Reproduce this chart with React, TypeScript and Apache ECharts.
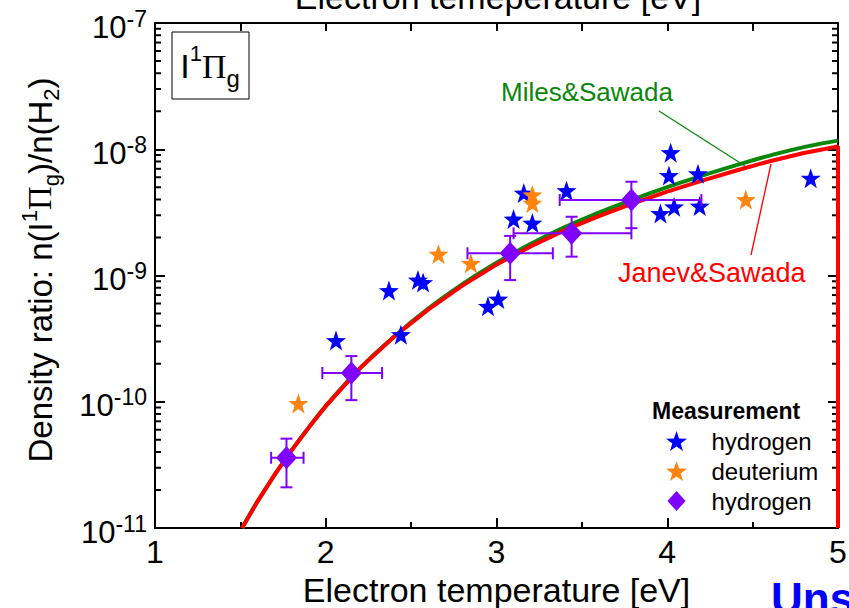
import React, { useEffect, useRef } from 'react';
import * as echarts from 'echarts';

// Axis ranges
const teMin = 1;
const teMax = 5;
const ratioMin = 1e-11;
const ratioMax = 1e-7;
const teTicks = [1, 2, 3, 4, 5];

// Calculated density ratio curves
const curveTe = [1.51, 1.6, 1.7, 1.8, 1.9, 2.0, 2.2, 2.4, 2.6, 2.8, 3.0, 3.2, 3.4, 3.6, 3.8, 4.0, 4.2, 4.4, 4.6, 4.8, 5.0];
const janevRatio = [1.0e-11, 1.62e-11, 2.63e-11, 4.12e-11, 6.24e-11, 9.23e-11, 1.84e-10, 3.27e-10, 5.37e-10, 8.32e-10, 1.22e-9, 1.70e-9, 2.29e-9, 2.95e-9, 3.72e-9, 4.62e-9, 5.62e-9, 6.76e-9, 8.04e-9, 9.33e-9, 1.05e-8];
const milesRatio = [1.0e-11, 1.62e-11, 2.63e-11, 4.12e-11, 6.24e-11, 9.23e-11, 1.84e-10, 3.27e-10, 5.47e-10, 8.55e-10, 1.26e-9, 1.78e-9, 2.42e-9, 3.15e-9, 4.00e-9, 5.02e-9, 6.15e-9, 7.45e-9, 8.91e-9, 1.04e-8, 1.17e-8];

// Measurement: hydrogen (stars)
const hydrogenTe = [2.06, 2.37, 2.54, 2.57, 2.44, 2.95, 3.01, 3.10, 3.21, 3.16, 3.41, 4.02, 4.01, 4.18, 3.96, 4.04, 4.19, 4.84];
const hydrogenRatio = [3.05e-10, 7.6e-10, 9.2e-10, 8.8e-10, 3.4e-10, 5.7e-10, 6.5e-10, 2.8e-9, 2.6e-9, 4.5e-9, 4.7e-9, 9.4e-9, 6.2e-9, 6.4e-9, 3.1e-9, 3.5e-9, 3.55e-9, 5.9e-9];

// Measurement: deuterium (stars)
const deuteriumTe = [1.84, 2.66, 2.85, 3.21, 3.21, 4.46];
const deuteriumRatio = [9.7e-11, 1.48e-9, 1.25e-9, 4.35e-9, 3.75e-9, 4.0e-9];

// Measurement: hydrogen, averaged with error ranges (diamonds)
const avgTe = [1.77, 2.15, 3.08, 3.44, 3.79];
const avgRatio = [3.6e-11, 1.69e-10, 1.5e-9, 2.16e-9, 3.96e-9];
const avgTeLow = [1.68, 1.98, 2.83, 3.10, 3.37];
const avgTeHigh = [1.87, 2.33, 3.33, 3.79, 4.20];
const avgRatioLow = [2.1e-11, 1.03e-10, 9.2e-10, 1.41e-9, 2.37e-9];
const avgRatioHigh = [5.1e-11, 2.3e-10, 2.06e-9, 2.92e-9, 5.53e-9];

// Log-axis minor tick multipliers
const minorMultipliers = [2, 3, 4, 5, 6, 7, 8, 9];
const decades = [-11, -10, -9, -8];

const FONT = 'Liberation Sans, Arial, Helvetica, sans-serif';
const SERIF = 'Liberation Serif, Times New Roman, serif';
const BLUE = '#0000ff';
const ORANGE = '#ff8410';
const PURPLE = '#8000ff';
const GREEN = '#0a870a';
const RED = '#ff0000';

const STAR = 'path://M0,-10L2.35,-3.24L9.51,-3.09L3.8,1.24L5.88,8.09L0,4L-5.88,8.09L-3.8,1.24L-9.51,-3.09L-2.35,-3.24Z';
const DIAMOND = 'path://M0,-11L10,0L0,11L-10,0Z';

const NAME_H = 'hydrogen';
const NAME_D = 'deuterium';
const NAME_AVG = 'hydrogen, averaged';

export default function App() {
  const ref = useRef<HTMLDivElement>(null);

  useEffect(() => {
    if (!ref.current) return;
    const chart = echarts.init(ref.current, null, { renderer: 'svg' });

    const minorTicks: number[][] = [];
    decades.forEach((d) => minorMultipliers.forEach((m) => minorTicks.push([teMin, m * Math.pow(10, d)])));

    const janevData = curveTe.map((t, i) => [t, janevRatio[i]]);
    // the calculated curve closes down the right frame at the upper Te limit
    janevData.push([teMax, ratioMin]);

    const option: any = {
      animation: false,
      backgroundColor: '#ffffff',
      grid: { left: 155, right: 11, top: 23, bottom: 80, containLabel: false, outerBoundsMode: 'none' },
      xAxis: [
        {
          type: 'value',
          min: teMin,
          max: teMax,
          interval: 1,
          position: 'bottom',
          name: 'Electron temperature [eV]',
          nameLocation: 'middle',
          nameGap: 37,
          nameTextStyle: { fontFamily: FONT, fontSize: 34, color: '#000' },
          axisLine: { show: true, onZero: false, lineStyle: { color: '#000', width: 2 } },
          axisTick: { show: true, inside: true, length: 10, lineStyle: { color: '#000', width: 2 } },
          minorTick: { show: true, splitNumber: 2, length: 6, lineStyle: { color: '#000', width: 2 } },
          splitLine: { show: false },
          axisLabel: {
            fontFamily: FONT,
            fontSize: 32,
            color: '#000',
            margin: 8,
            formatter: (v: number) => (teTicks.includes(v) ? String(v) : ''),
          },
        },
        {
          type: 'value',
          min: teMin,
          max: teMax,
          interval: 1,
          position: 'top',
          axisLine: { show: true, onZero: false, lineStyle: { color: '#000', width: 2 } },
          axisTick: { show: true, inside: true, length: 8, lineStyle: { color: '#000', width: 2 } },
          minorTick: { show: true, splitNumber: 2, length: 8, lineStyle: { color: '#000', width: 2 } },
          splitLine: { show: false },
          axisLabel: { show: false },
        },
      ],
      yAxis: [
        {
          type: 'log',
          logBase: 10,
          min: ratioMin,
          max: ratioMax,
          position: 'left',
          axisLine: { show: true, onZero: false, lineStyle: { color: '#000', width: 2 } },
          axisTick: { show: true, inside: true, length: 10, lineStyle: { color: '#000', width: 2 } },
          splitLine: { show: false },
          axisLabel: {
            margin: 8,
            padding: [8, 0, 0, 0],
            formatter: (v: number) => `{b|10}{e|${Math.round(Math.log10(v))}}`,
            rich: {
              b: { fontFamily: FONT, fontSize: 31, color: '#000', lineHeight: 40 },
              e: { fontFamily: FONT, fontSize: 23, color: '#000', verticalAlign: 'top' },
            },
          },
        },
        {
          type: 'log',
          logBase: 10,
          min: ratioMin,
          max: ratioMax,
          position: 'right',
          axisLine: { show: true, onZero: false, lineStyle: { color: '#000', width: 2 } },
          axisTick: { show: true, inside: true, length: 10, lineStyle: { color: '#000', width: 2 } },
          splitLine: { show: false },
          axisLabel: { show: false },
        },
      ],
      legend: {
        left: 666,
        top: 429,
        orient: 'vertical',
        itemWidth: 60,
        itemHeight: 20,
        itemGap: 6,
        padding: 0,
        selectedMode: false,
        textStyle: { fontFamily: FONT, fontSize: 24, color: '#000' },
        formatter: (name: string) => name.split(',')[0],
        data: [
          { name: NAME_H, icon: STAR },
          { name: NAME_D, icon: STAR },
          { name: NAME_AVG, icon: DIAMOND },
        ],
      },
      series: [
        {
          type: 'custom',
          name: 'minor ticks',
          silent: true,
          clip: false,
          data: minorTicks,
          encode: { x: 0, y: 1 },
          renderItem: (params: any, api: any) => {
            const cs = params.coordSys;
            const p = api.coord([api.value(0), api.value(1)]);
            const st = { stroke: '#000', lineWidth: 2 };
            return {
              type: 'group',
              children: [
                { type: 'line', shape: { x1: cs.x, y1: p[1], x2: cs.x + 6, y2: p[1] }, style: st },
                { type: 'line', shape: { x1: cs.x + cs.width - 6, y1: p[1], x2: cs.x + cs.width, y2: p[1] }, style: st },
              ],
            };
          },
          z: 1,
        },
        {
          type: 'line',
          name: 'Miles&Sawada',
          data: curveTe.map((t, i) => [t, milesRatio[i]]),
          showSymbol: false,
          smooth: true,
          lineStyle: { color: GREEN, width: 4 },
          z: 2,
        },
        {
          type: 'line',
          name: 'Janev&Sawada',
          data: janevData,
          showSymbol: false,
          smooth: false,
          lineStyle: { color: RED, width: 4 },
          z: 3,
        },
        {
          type: 'scatter',
          name: NAME_H,
          data: hydrogenTe.map((t, i) => [t, hydrogenRatio[i]]),
          symbol: STAR,
          symbolSize: 20,
          itemStyle: { color: BLUE, opacity: 1 },
          z: 4,
        },
        {
          type: 'scatter',
          name: NAME_D,
          data: deuteriumTe.map((t, i) => [t, deuteriumRatio[i]]),
          symbol: STAR,
          symbolSize: 20,
          itemStyle: { color: ORANGE, opacity: 1 },
          z: 4,
        },
        {
          type: 'custom',
          name: 'error bars',
          silent: true,
          data: avgTe.map((t, i) => [t, avgRatio[i], avgTeLow[i], avgTeHigh[i], avgRatioLow[i], avgRatioHigh[i]]),
          encode: { x: 0, y: 1 },
          renderItem: (_params: any, api: any) => {
            const t = api.value(0);
            const r = api.value(1);
            const pl = api.coord([api.value(2), r]);
            const pr = api.coord([api.value(3), r]);
            const pb = api.coord([t, api.value(4)]);
            const pt = api.coord([t, api.value(5)]);
            const c = 6;
            const st = { stroke: PURPLE, lineWidth: 2, fill: 'none' };
            return {
              type: 'group',
              children: [
                { type: 'line', shape: { x1: pl[0], y1: pl[1], x2: pr[0], y2: pr[1] }, style: st },
                { type: 'line', shape: { x1: pb[0], y1: pb[1], x2: pt[0], y2: pt[1] }, style: st },
                { type: 'line', shape: { x1: pl[0], y1: pl[1] - c, x2: pl[0], y2: pl[1] + c }, style: st },
                { type: 'line', shape: { x1: pr[0], y1: pr[1] - c, x2: pr[0], y2: pr[1] + c }, style: st },
                { type: 'line', shape: { x1: pt[0] - c, y1: pt[1], x2: pt[0] + c, y2: pt[1] }, style: st },
                { type: 'line', shape: { x1: pb[0] - c, y1: pb[1], x2: pb[0] + c, y2: pb[1] }, style: st },
              ],
            };
          },
          z: 5,
        },
        {
          type: 'scatter',
          name: NAME_AVG,
          data: avgTe.map((t, i) => [t, avgRatio[i]]),
          symbol: DIAMOND,
          symbolSize: [21, 23],
          itemStyle: { color: PURPLE, opacity: 1 },
          z: 6,
        },
      ],
      graphic: [
        {
          type: 'text',
          x: 498,
          y: -3,
          style: { text: 'Electron temeperature [eV]', align: 'center', verticalAlign: 'middle', font: `34px ${FONT}`, fill: '#000' },
        },
        {
          type: 'text',
          x: 40,
          y: 270,
          rotation: Math.PI / 2,
          style: {
            text: '{a|Density ratio: n(I}{sup|1}{pi|Π}{sub|g}{a|)/n(H}{sub|2}{a|)}',
            align: 'center',
            verticalAlign: 'middle',
            rich: {
              a: { fontFamily: FONT, fontSize: 33, fill: '#000', lineHeight: 44 },
              pi: { fontFamily: SERIF, fontSize: 33, fill: '#000', lineHeight: 44 },
              sup: { fontFamily: FONT, fontSize: 22, fill: '#000', verticalAlign: 'top' },
              sub: { fontFamily: FONT, fontSize: 22, fill: '#000', verticalAlign: 'bottom' },
            },
          },
        },
        {
          type: 'rect',
          shape: { x: 172, y: 32, width: 77, height: 67 },
          style: { fill: 'none', stroke: '#000', lineWidth: 1 },
        },
        {
          type: 'text',
          x: 210,
          y: 66,
          style: {
            text: '{a|I}{sup|1}{pi|Π}{sub|g}',
            align: 'center',
            verticalAlign: 'middle',
            rich: {
              a: { fontFamily: FONT, fontSize: 34, fill: '#000', lineHeight: 48 },
              pi: { fontFamily: SERIF, fontSize: 34, fill: '#000', lineHeight: 48 },
              sup: { fontFamily: FONT, fontSize: 22, fill: '#000', verticalAlign: 'top' },
              sub: { fontFamily: FONT, fontSize: 24, fill: '#000', verticalAlign: 'bottom' },
            },
          },
        },
        {
          type: 'text',
          x: 501,
          y: 92,
          style: { text: 'Miles&Sawada', align: 'left', verticalAlign: 'middle', font: `26px ${FONT}`, fill: GREEN },
        },
        {
          type: 'line',
          shape: { x1: 659, y1: 111, x2: 745, y2: 166 },
          style: { stroke: GREEN, lineWidth: 1.3 },
        },
        {
          type: 'text',
          x: 618,
          y: 273,
          style: { text: 'Janev&Sawada', align: 'left', verticalAlign: 'middle', font: `27px ${FONT}`, fill: RED },
        },
        {
          type: 'line',
          shape: { x1: 771, y1: 164, x2: 751, y2: 255 },
          style: { stroke: RED, lineWidth: 1.3 },
        },
        {
          type: 'text',
          x: 652,
          y: 411,
          style: { text: 'Measurement', align: 'left', verticalAlign: 'middle', font: `bold 23px ${FONT}`, fill: '#000' },
        },
        {
          type: 'text',
          x: 771,
          y: 576,
          style: { text: 'Uns', align: 'left', verticalAlign: 'top', font: `bold 44px ${FONT}`, fill: BLUE },
        },
      ],
    };

    chart.setOption(option);
    return () => chart.dispose();
  }, []);

  return (
    <div
      ref={ref}
      style={{ position: 'fixed', left: 0, top: 0, width: 849, height: 608, background: '#fff' }}
    />
  );
}
